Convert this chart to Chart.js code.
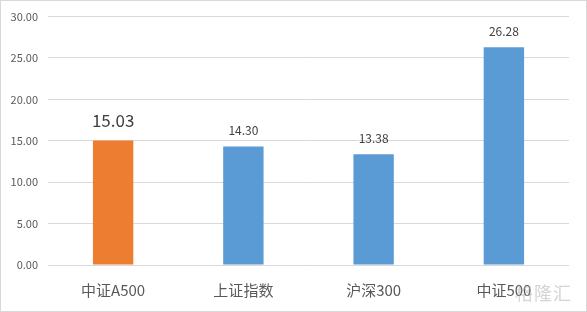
<!DOCTYPE html>
<html>
<head>
<meta charset="utf-8">
<script src="https://cdn.jsdelivr.net/npm/chart.js@4"></script>
<style>
  html, body { margin: 0; padding: 0; background: #fff; }
  #wrap { position: relative; width: 585px; height: 310px; border: 1px solid #d9d9d9; }
  #mark { position: absolute; right: 14px; bottom: 6px; font: 18px "Noto Sans CJK SC"; color: rgba(170,170,170,0.5); letter-spacing: 1px; }
</style>
</head>
<body>
<div id="wrap">
  <canvas id="c" width="585" height="310"></canvas>
  <div id="mark">格隆汇</div>
</div>
<script>
const categories = ['中证A500', '上证指数', '沪深300', '中证500'];
const values = [15.03, 14.30, 13.38, 26.28];
const barColors = ['#ED7D31', '#5B9BD5', '#5B9BD5', '#5B9BD5'];
const labelSizes = [17, 12, 12, 12];

const valueLabels = {
  id: 'valueLabels',
  afterDatasetsDraw(chart) {
    const ctx = chart.ctx;
    const meta = chart.getDatasetMeta(0);
    ctx.save();
    ctx.fillStyle = '#404040';
    ctx.textAlign = 'center';
    ctx.textBaseline = 'bottom';
    meta.data.forEach((bar, i) => {
      ctx.font = labelSizes[i] + 'px "Noto Sans CJK SC"';
      ctx.fillText(values[i].toFixed(2), bar.x, bar.y - (i === 0 ? 11 : 10));
    });
    ctx.restore();
  }
};

new Chart(document.getElementById('c'), {
  type: 'bar',
  data: {
    labels: categories,
    datasets: [{
      data: values,
      backgroundColor: barColors,
      categoryPercentage: 1,
      barPercentage: 0.31
    }]
  },
  options: {
    responsive: false,
    animation: false,
    layout: { padding: { top: 13, right: 17, bottom: 0, left: 0 } },
    plugins: { legend: { display: false }, tooltip: { enabled: false } },
    scales: {
      x: {
        grid: { display: false },
        border: { display: false },
        ticks: { color: '#595959', font: { size: 15, family: 'Noto Sans CJK SC' }, padding: 8 },
        afterFit(s) { s.height = 46; }
      },
      y: {
        min: 0, max: 30,
        ticks: {
          stepSize: 5,
          color: '#595959',
          font: { size: 11, family: 'Noto Sans CJK SC', lineHeight: 1 },
          padding: 10,
          callback: v => v.toFixed(2)
        },
        grid: { color: '#d9d9d9', drawTicks: false },
        border: { display: false },
        afterFit(s) { s.width = 47; }
      }
    }
  },
  plugins: [valueLabels]
});
</script>
</body>
</html>
